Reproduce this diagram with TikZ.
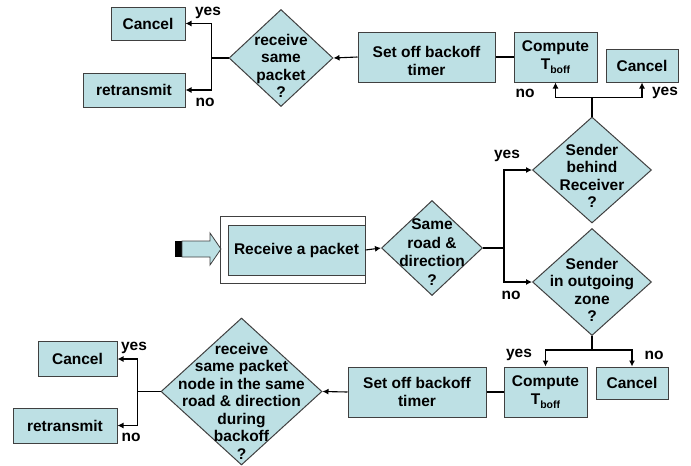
\documentclass[tikz,border=0pt]{standalone}
\usepackage{fontspec}
\setmainfont{Liberation Sans}
\usetikzlibrary{shapes.geometric,arrows.meta}
\definecolor{lb}{RGB}{189,224,228}
\definecolor{bd}{RGB}{64,64,64}
\tikzset{
  txt/.style={font=\bfseries\fontsize{15.5}{17.5}\selectfont, align=center, inner sep=0pt},
  boxn/.style={txt, draw=bd, fill=lb, line width=1pt, minimum width=#1},
  dia/.style={diamond, draw=bd, fill=lb, line width=1pt, inner sep=0pt, aspect=1},
  lab/.style={font=\bfseries\fontsize{15.5}{17.5}\selectfont, inner sep=0pt},
  con/.style={line width=1.1pt, black},
  arr/.style={con, -{Latex[length=6pt,width=6pt]}}
}
\newcommand{\tboff}{T\raisebox{-4pt}{\fontsize{10.5}{11}\selectfont boff}}
\begin{document}
\begin{tikzpicture}[x=1pt,y=-1pt]
\useasboundingbox (0,0) rectangle (691,466);
% top row
\node[boxn=74pt, minimum height=33pt] (cancelA) at (148,23.5) {Cancel};
\node[boxn=102pt, minimum height=34pt] (retransA) at (134,90) {retransmit};
\node[dia, minimum width=104pt, minimum height=97pt] (dA) at (281,58) {};
\node[txt] (tA) at (281,66) {receive\\same\\packet\\?};
\node[boxn=137pt, minimum height=50pt] (setA) at (426.5,57) {};
\node[txt] (tSetA) at (426.5,61) {Set off backoff\\timer};
\node[boxn=83pt, minimum height=50pt] (compA) at (555.5,57) {Compute\\\tboff};
\node[boxn=72pt, minimum height=33pt] (cancelB) at (642,65.5) {Cancel};
% middle
\fill[black] (175,241) rectangle (182,257);
\draw[bd, fill=lb, line width=0.8pt] (182,241) -- (210,241) -- (210,233) -- (221,249) -- (210,265) -- (210,257) -- (182,257) -- cycle;
\node[draw=bd, line width=1pt, minimum width=145pt, minimum height=67pt, inner sep=0pt] (outer) at (292.5,249.5) {};
\node[boxn=137pt, minimum height=50pt] (recv) at (296.5,250) {Receive a packet};
\node[dia, minimum width=101pt, minimum height=95pt] (dS) at (432,248) {};
\node[txt, font=\bfseries\fontsize{15.5}{18.5}\selectfont] (tS) at (432,252) {Same\\road \&\\direction\\?};
\node[dia, minimum width=119pt, minimum height=106pt] (dB) at (592,170) {};
\node[txt] (tB) at (592,176) {Sender\\behind\\Receiver\\?};
\node[dia, minimum width=119pt, minimum height=107pt] (dO) at (592,282) {};
\node[txt] (tO) at (592,290) {Sender\\in outgoing\\zone\\?};
% bottom
\node[boxn=83pt, minimum height=50pt] (compB) at (545.5,392) {Compute\\\tboff};
\node[boxn=72pt, minimum height=32pt] (cancelC) at (632,383) {Cancel};
\node[boxn=138pt, minimum height=50pt] (setB) at (417,392) {Set off backoff\\timer};
\node[dia, minimum width=161pt, minimum height=147pt] (dBig) at (241.5,391.5) {};
\node[txt] (tBig) at (241.5,401) {receive\\same packet\\node in the same\\road \& direction\\during\\backoff\\?};
\node[boxn=79pt, minimum height=35pt] (cancelD) at (77.5,359) {Cancel};
\node[boxn=104pt, minimum height=35pt] (retransD) at (65,425.5) {retransmit};
% connectors top
\draw[arr] (setA.west) -- (dA.east);
\draw[con] (setA.east) -- (compA.west);
\draw[con] (dA.west) -- ++(-17,0) coordinate (jA);
\draw[arr] (jA) |- (cancelA.east);
\draw[arr] (jA) |- (retransA.east);
\draw[con] (dB.north) -- ++(0,-19) coordinate (jB);
\draw[arr] (jB) -| (compA.south);
\draw[arr] (jB) -| (cancelB.south);
% connectors middle
\draw[arr] (recv.east) -- (dS.west);
\draw[con] (dS.east) -- (504,248) coordinate (jS);
\draw[arr] (jS) |- (dB.west);
\draw[arr] (jS) |- (dO.west);
% connectors bottom
\draw[con] (dO.south) -- ++(0,14) coordinate (jO);
\draw[arr] (jO) -| (compB.north);
\draw[arr] (jO) -| (cancelC.north);
\draw[con] (setB.east) -- (compB.west);
\draw[arr] (setB.west) -- (dBig.east);
\draw[con] (dBig.west) -- ++(-23,0) coordinate (jBig);
\draw[arr] (jBig) |- (cancelD.east);
\draw[arr] (jBig) |- (retransD.east);
% labels
\node[lab] (yA) at (208,13) {yes};
\node[lab] (nA) at (205,102) {no};
\node[lab] (nB) at (525,93) {no};
\node[lab] (yB) at (665,93) {yes};
\node[lab] (yS) at (507,156) {yes};
\node[lab] (nS) at (511,295) {no};
\node[lab] (yO) at (519,355) {yes};
\node[lab] (nO) at (654,355) {no};
\node[lab] (yBig) at (134,348) {yes};
\node[lab] (nBig) at (131,437) {no};
\end{tikzpicture}
\end{document}
